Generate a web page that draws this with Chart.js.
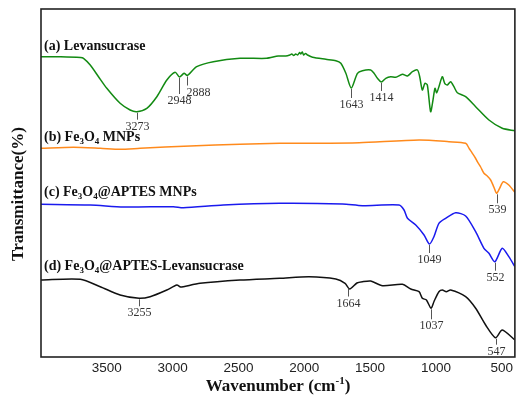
<!doctype html>
<html>
<head>
<meta charset="utf-8" />
<script src="https://cdn.jsdelivr.net/npm/chart.js"></script>
<style>
  body { margin: 0; background: #fff; }
  canvas { display: block; }
</style>
</head>
<body>
<canvas id="ftir" width="516" height="399"></canvas>
<script>
// wavenumber (cm-1) and transmittance (a.u., offset per trace)
const wnA = [4000, 3850, 3700, 3677, 3626, 3563, 3500, 3399, 3323, 3272, 3196, 3120, 3044, 2981, 2948, 2913, 2888, 2817, 2691, 2488, 2286, 2198, 2140, 2110, 2095, 2080, 2065, 2050, 2035, 2026, 2015, 2005, 1990, 1975, 1937, 1836, 1760, 1722, 1684, 1643, 1596, 1558, 1495, 1470, 1444, 1414, 1381, 1343, 1305, 1254, 1216, 1178, 1140, 1123, 1103, 1083, 1065, 1040, 1022, 1007, 994, 977, 951, 933, 913, 888, 863, 837, 774, 698, 597, 496, 400];
const tA = [300.3, 300.2, 299.5, 298.7, 292, 280.3, 268.7, 253.7, 247, 245.3, 248.7, 260.3, 277, 284.7, 280, 283.7, 281.5, 290.3, 295.3, 298.7, 298.7, 301, 301, 302, 303, 301.5, 303, 302, 304.5, 303, 305, 302, 303.5, 302, 299.7, 297.7, 296.3, 293.7, 283.7, 269, 283.7, 286.3, 287, 283.7, 278.7, 275, 278.7, 280.3, 279.7, 282.7, 281, 285.3, 287, 280.3, 267, 273.7, 272, 245.3, 257, 268.7, 264.3, 270.3, 280.3, 273.7, 272, 275.3, 270.3, 264.3, 260.3, 250.3, 237, 228.7, 226.3];

const wnB = [4000, 3753, 3550, 3399, 3247, 2867, 2488, 2187, 1963, 1583, 1128, 901, 774, 745, 723, 700, 685, 660, 635, 610, 584, 560, 539, 516, 488, 446, 400];
const tB = [208.7, 209.7, 208.7, 207.7, 208.7, 211, 212.7, 213.7, 213.7, 214.3, 217, 215.3, 213.7, 208, 203.7, 199, 195.3, 190, 183.7, 181, 177, 170, 163.7, 168.7, 175.3, 172, 164.7];

const wnC = [4000, 3626, 3373, 2994, 2918, 2615, 2187, 1709, 1558, 1280, 1242, 1216, 1153, 1090, 1049, 1015, 977, 926, 850, 774, 698, 635, 597, 552, 496, 446, 400];
const tC = [152.7, 152, 150, 150.3, 149.3, 152, 153.7, 153, 151.3, 152, 147, 138.7, 132, 122, 113, 120.3, 133.7, 138.7, 144.3, 141, 125.3, 108.7, 103.7, 95.3, 108.7, 100.3, 90.3];

const wnD = [4000, 3702, 3550, 3399, 3255, 3171, 3044, 2968, 2940, 2918, 2792, 2488, 2187, 1963, 1760, 1690, 1655, 1600, 1558, 1495, 1406, 1254, 1191, 1128, 1103, 1072, 1037, 1015, 977, 951, 921, 888, 774, 698, 622, 547, 496, 400];
const tD = [77, 77.7, 70.3, 62, 58.7, 60.3, 67, 72, 70, 70.3, 73.7, 77, 78.7, 80.3, 78, 73.7, 68, 74, 75.3, 76, 71.3, 72.7, 68, 65.3, 58.7, 57, 48.7, 55.3, 65.3, 67, 65.3, 67, 60.3, 48.7, 32, 19.3, 27, 17];

const tickValues = [3500, 3000, 2500, 2000, 1500, 1000, 500];

const seriesNames = ['(a) Levansucrase', '(b) Fe_3O_4 MNPs', '(c) Fe_3O_4@APTES MNPs', '(d) Fe_3O_4@APTES-Levansucrase'];
const seriesNameY = [311, 220, 165, 91];
const colors = ['#128a12', '#ff8a1c', '#1a1aee', '#111111'];

// peak markers: which trace, position, label, tick length (px)
const peakSeries = [0, 0, 0, 0, 0, 1, 2, 2, 3, 3, 3, 3];
const peakAt = [3273, 2948, 2888, 1643, 1414, 539, 1049, 552, 3255, 1664, 1037, 547];
const peakLen = [7, 16, 9, 9, 8, 9, 8, 8, 7, 8, 10, 6];
const peakShift = [0, 0, 11, 0, 0, 0, 0, 0, 0, 0, 0, 0];

const traces = [[wnA, tA], [wnB, tB], [wnC, tC], [wnD, tD]];

function valueAt(wn, t, w) {
  for (let i = 0; i < wn.length - 1; i++) {
    if (w <= wn[i] && w >= wn[i + 1]) {
      const f = (wn[i] - w) / (wn[i] - wn[i + 1]);
      return t[i] + (t[i + 1] - t[i]) * f;
    }
  }
  return t[t.length - 1];
}

function drawRich(ctx, text, x, y, size) {
  let cx = x;
  for (let i = 0; i < text.length; i++) {
    if (text[i] === '_') {
      ctx.font = 'bold ' + Math.round(size * 0.65) + 'px "Liberation Serif"';
      ctx.fillText(text[i + 1], cx, y + size * 0.3);
      cx += ctx.measureText(text[i + 1]).width;
      i++;
    } else {
      ctx.font = 'bold ' + size + 'px "Liberation Serif"';
      ctx.fillText(text[i], cx, y);
      cx += ctx.measureText(text[i]).width;
    }
  }
}

const annotations = {
  id: 'annotations',
  afterDraw(chart) {
    const ctx = chart.ctx;
    const xs = chart.scales.x;
    const ys = chart.scales.y;
    const area = chart.chartArea;
    ctx.save();

    // frame
    ctx.strokeStyle = '#222';
    ctx.lineWidth = 1.6;
    ctx.strokeRect(area.left, area.top, area.right - area.left, area.bottom - area.top);

    // trace names
    ctx.fillStyle = '#111';
    ctx.textBaseline = 'middle';
    ctx.textAlign = 'left';
    seriesNames.forEach((name, i) => {
      drawRich(ctx, name, area.left + 3, ys.getPixelForValue(seriesNameY[i]), 14);
    });

    // peak ticks and labels
    ctx.strokeStyle = '#555';
    ctx.lineWidth = 1;
    ctx.fillStyle = '#333';
    ctx.font = '12px "Liberation Serif"';
    ctx.textAlign = 'center';
    ctx.textBaseline = 'top';
    peakAt.forEach((w, i) => {
      const [wn, t] = traces[peakSeries[i]];
      const px = Math.round(xs.getPixelForValue(w)) + 0.5;
      const py = ys.getPixelForValue(valueAt(wn, t, w)) + 1;
      ctx.beginPath();
      ctx.moveTo(px, py);
      ctx.lineTo(px, py + peakLen[i]);
      ctx.stroke();
      ctx.fillText(String(w), px + peakShift[i], py + peakLen[i] + 1);
    });

    // axis titles
    ctx.fillStyle = '#111';
    ctx.textBaseline = 'middle';
    ctx.save();
    ctx.translate(19, 194);
    ctx.rotate(-Math.PI / 2);
    ctx.textAlign = 'center';
    ctx.font = 'bold 17px "Liberation Serif"';
    ctx.fillText('Transmittance(%)', 0, 0);
    ctx.restore();

    ctx.textAlign = 'left';
    ctx.font = 'bold 17px "Liberation Serif"';
    const main = 'Wavenumber (cm';
    const sup = '-1';
    const tail = ')';
    const wMain = ctx.measureText(main).width;
    const wTail = ctx.measureText(tail).width;
    ctx.font = 'bold 11px "Liberation Serif"';
    const wSup = ctx.measureText(sup).width;
    let x0 = 278 - (wMain + wSup + wTail) / 2;
    ctx.font = 'bold 17px "Liberation Serif"';
    ctx.fillText(main, x0, 387);
    ctx.font = 'bold 11px "Liberation Serif"';
    ctx.fillText(sup, x0 + wMain, 381);
    ctx.font = 'bold 17px "Liberation Serif"';
    ctx.fillText(tail, x0 + wMain + wSup, 387);

    ctx.restore();
  },
};

new Chart(document.getElementById('ftir'), {
  type: 'line',
  plugins: [annotations],
  data: {
    datasets: traces.map(([wn, t], i) => ({
      data: wn.map((w, j) => ({ x: w, y: t[j] })),
      borderColor: colors[i],
      borderWidth: 1.5,
      pointRadius: 0,
      tension: 0.25,
      fill: false,
    })),
  },
  options: {
    responsive: false,
    animation: false,
    layout: { padding: { top: 9, right: 1, left: 0, bottom: 0 } },
    plugins: { legend: { display: false }, tooltip: { enabled: false } },
    scales: {
      x: {
        type: 'linear',
        reverse: true,
        min: 400,
        max: 4000,
        afterBuildTicks(axis) { axis.ticks = tickValues.map((v) => ({ value: v })); },
        afterFit(axis) { axis.height = 42; },
        grid: { display: false, drawTicks: false },
        border: { display: false },
        ticks: {
          autoSkip: false,
          maxRotation: 0,
          padding: 3,
          color: '#222',
          font: { family: '"Liberation Sans"', size: 13.5 },
          callback: (v) => String(v),
        },
      },
      y: {
        min: 0,
        max: 348,
        afterFit(axis) { axis.width = 41; },
        grid: { display: false, drawTicks: false },
        border: { display: false },
        ticks: { display: false },
      },
    },
  },
});
</script>
</body>
</html>
